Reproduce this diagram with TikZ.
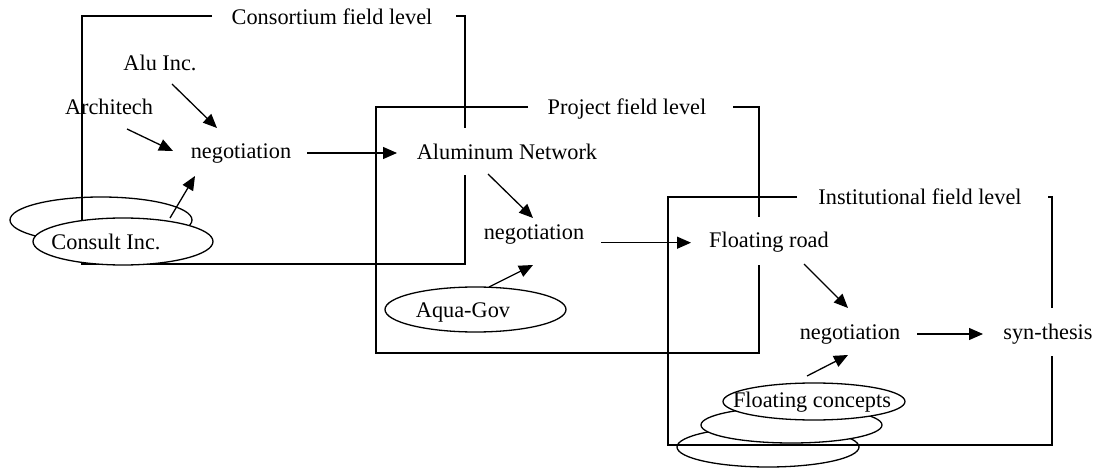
\documentclass[tikz,border=0pt]{standalone}
\usepackage{fontspec}
\setmainfont{Liberation Serif}
\usetikzlibrary{arrows.meta,shapes.geometric}
\begin{document}
\begin{tikzpicture}[x=1pt,y=-1pt,line width=1.3pt,
  lbl/.style={font=\fontsize{22.3}{26}\selectfont,inner sep=0pt,anchor=base},
  arr/.style={-{Triangle[length=14pt,width=12pt]}},
  ell/.style={ellipse,draw,fill=white,inner sep=0pt}]
\useasboundingbox (0,0) rectangle (1103,470);
% back ellipses under the frame lines
\node[ellipse,draw,inner sep=0pt,minimum width=182pt,minimum height=46pt] (cback) at (101,220) {};
\node[ell,minimum width=182pt,minimum height=40pt] (fback2) at (768,447) {};
% frames
\draw (212,16) -- (82,16) -- (82,264) -- (465,264) -- (465,175);
\draw (465,128) -- (465,16) -- (456,16);
\draw (528,107) -- (376,107) -- (376,353) -- (759,353) -- (759,265);
\draw (759,217) -- (759,107) -- (733,107);
\draw (797,197) -- (668,197) -- (668,445) -- (1052,445) -- (1052,356);
\draw (1052,308) -- (1052,197) -- (1048,197);
% front ellipses
\node[ell,minimum width=181pt,minimum height=36pt] (fback1) at (791.5,425) {};
\node[ell,minimum width=182pt,minimum height=37pt] (fcE) at (814,401.5) {};
\node[ell,minimum width=180pt,minimum height=47pt] (consultE) at (123,241.5) {};
\node[ell,minimum width=181pt,minimum height=45pt] (aquaE) at (475.5,309.5) {};
% texts
\node[lbl] (cons) at (332,25) {Consortium field level};
\node[lbl] (proj) at (627,115) {Project field level};
\node[lbl] (inst) at (920,205) {Institutional field level};
\node[lbl] (alu) at (160,70.7) {Alu Inc.};
\node[lbl] (arch) at (109,115) {Architech};
\node[lbl] (consult) at (106,250) {Consult Inc.};
\node[lbl] (neg1) at (241,159) {negotiation};
\node[lbl] (alnet) at (507,159.5) {Aluminum Network};
\node[lbl] (neg2) at (534,239.5) {negotiation};
\node[lbl] (aqua) at (463,317.5) {Aqua-Gov};
\node[lbl] (float) at (769,247.5) {Floating road};
\node[lbl] (neg3) at (850,339.5) {negotiation};
\node[lbl] (syn) at (1048,339.5) {syn-thesis};
\node[lbl] (fc) at (812,407) {Floating concepts};
% arrow end points
\coordinate (aluS) at (172,84);   \coordinate (neg1A) at (217,128);
\coordinate (archS) at (127,129); \coordinate (neg1B) at (173,151);
\coordinate (consS) at (170,218); \coordinate (neg1C) at (195,176);
\coordinate (neg1S) at (307,153); \coordinate (alnetA) at (397,153);
\coordinate (alnetS) at (488,174); \coordinate (neg2A) at (533,218);
\coordinate (aquaS) at (489,287); \coordinate (neg2B) at (533,265);
\coordinate (neg2S) at (601,242.7); \coordinate (floatA) at (691,242.7);
\coordinate (floatS) at (804,264); \coordinate (neg3A) at (848,308);
\coordinate (fcS) at (807,376); \coordinate (neg3B) at (848,355);
\coordinate (neg3S) at (917,334); \coordinate (synA) at (983,334);
% connectors
\draw[arr] (aluS) -- (neg1A);
\draw[arr] (archS) -- (neg1B);
\draw[arr] (consS) -- (neg1C);
\draw[arr] (neg1S) -- (alnetA);
\draw[arr] (alnetS) -- (neg2A);
\draw[arr] (aquaS) -- (neg2B);
\draw[arr] (neg2S) -- (floatA);
\draw[arr] (floatS) -- (neg3A);
\draw[arr] (fcS) -- (neg3B);
\draw[arr] (neg3S) -- (synA);
\end{tikzpicture}
\end{document}
